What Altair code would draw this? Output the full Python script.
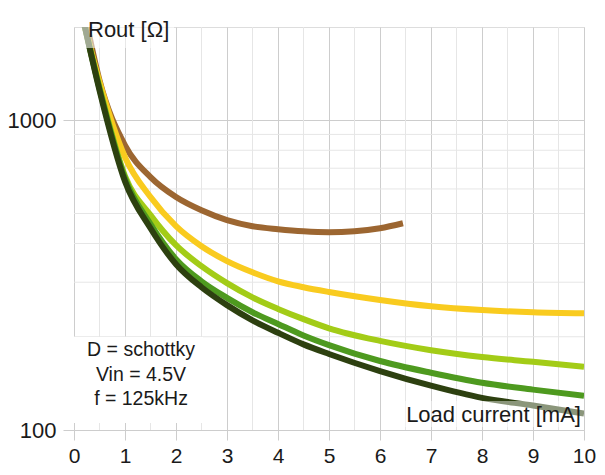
import altair as alt
import pandas as pd

# ---- data ----
series_names = ["brown", "yellow", "lightgreen", "green", "darkgreen"]
series_colors = ["#9c6631", "#f9cb1f", "#a3cc17", "#4e9a1f", "#2d4010"]

x_brown = [0.25, 0.5, 1, 1.5, 2, 2.5, 3, 3.5, 4, 4.5, 5, 5.5, 6, 6.45]
y_brown = [2050, 1346, 830, 655, 565, 512, 476, 455, 445, 438, 435, 438, 448, 465]

x_common = [0.2, 0.5, 1, 1.5, 2, 2.5, 3, 3.5, 4, 4.5, 5, 6, 7, 8, 9, 10]
y_yellow = [2050, 1330, 760, 565, 455, 392, 351, 323, 302, 289, 279, 263, 251, 244, 240, 238]
y_lightgreen = [2050, 1280, 660, 494, 395, 338, 298, 268, 246, 228, 213, 194, 181, 172, 166, 160]
y_green = [2050, 1265, 650, 462, 356, 302, 267, 240, 220, 202, 188, 167, 153, 142, 135, 129]
y_darkgreen = [2050, 1250, 635, 448, 343, 289, 253, 226, 206, 189, 176, 155, 139, 127, 120, 113]

x_ticks = [0, 1, 2, 3, 4, 5, 6, 7, 8, 9, 10]
x_minor = [0.5, 1.5, 2.5, 3.5, 4.5, 5.5, 6.5, 7.5, 8.5, 9.5]
y_ticks = [100, 1000]
y_minor = [200, 300, 400, 500, 600, 700, 800, 900]

y_title = "Rout [Ω]"
x_title = "Load current [mA]"
note_lines = ["D = schottky", "Vin = 4.5V", "f = 125kHz"]

# ---- build table ----
rows = []
for xv, yv in zip(x_brown, y_brown):
    rows.append({"s": "brown", "o": 0, "x": xv, "y": yv})
for name, ys, order in [("yellow", y_yellow, 1), ("lightgreen", y_lightgreen, 2),
                        ("green", y_green, 3), ("darkgreen", y_darkgreen, 4)]:
    for xv, yv in zip(x_common, ys):
        rows.append({"s": name, "o": order, "x": xv, "y": yv})
df = pd.DataFrame(rows)

FONT = "Liberation Sans"
W, H = 510, 403

xscale = alt.Scale(domain=[0, 10], nice=False, zero=False)
yscale = alt.Scale(type="log", domain=[100, 2000], nice=False)

base_axes = alt.Chart(pd.DataFrame({"x": [0], "y": [1000]})).mark_point(opacity=0).encode(
    x=alt.X("x:Q", scale=xscale,
            axis=alt.Axis(values=x_ticks, title=None, grid=True, gridColor="#cdcdcd",
                          tickColor="#cdcdcd", tickSize=10, domain=False,
                          labelFontSize=21, labelFont=FONT, labelColor="#1a1a1a",
                          labelPadding=5, labelFlush=False)),
    y=alt.Y("y:Q", scale=yscale,
            axis=alt.Axis(values=y_ticks, format="d", title=None, grid=True,
                          gridColor="#cdcdcd", tickColor="#cdcdcd", tickSize=11,
                          domain=False, labelFontSize=22, labelFont=FONT,
                          labelColor="#1a1a1a", labelPadding=7, labelFlush=False)),
)

minor_x = alt.Chart(pd.DataFrame({"x": x_minor})).mark_rule(
    color="#e6e6e6", strokeWidth=1).encode(x=alt.X("x:Q", scale=xscale))
minor_y = alt.Chart(pd.DataFrame({"y": y_minor})).mark_rule(
    color="#e6e6e6", strokeWidth=1).encode(y=alt.Y("y:Q", scale=yscale))

lines = alt.Chart(df).mark_line(strokeWidth=6, clip=True, interpolate="monotone",
                                strokeCap="butt").encode(
    x=alt.X("x:Q", scale=xscale),
    y=alt.Y("y:Q", scale=yscale),
    color=alt.Color("s:N", scale=alt.Scale(domain=series_names, range=series_colors),
                    legend=None),
    order=alt.Order("x:Q"),
    detail="o:N",
)

note_box = alt.Chart(pd.DataFrame({"a": [0]})).mark_rect(color="white").encode(
    x=alt.value(0), x2=alt.value(129), y=alt.value(310), y2=alt.value(396))
note = alt.Chart(pd.DataFrame({"t": ["\n".join(note_lines)]})).mark_text(
    font=FONT, fontSize=19.5, color="#1a1a1a", align="center", baseline="top",
    lineBreak="\n", lineHeight=24.5).encode(
    text="t:N", x=alt.value(67), y=alt.value(314))

ytitle_box = alt.Chart(pd.DataFrame({"a": [0]})).mark_rect(color="white", opacity=0.55).encode(
    x=alt.value(8), x2=alt.value(100), y=alt.value(-14), y2=alt.value(21))
ytitle = alt.Chart(pd.DataFrame({"t": [y_title]})).mark_text(
    font=FONT, fontSize=22, color="#1a1a1a", align="left", baseline="alphabetic").encode(
    text="t:N", x=alt.value(14), y=alt.value(10))

xtitle_box = alt.Chart(pd.DataFrame({"a": [0]})).mark_rect(color="white", opacity=0.45).encode(
    x=alt.value(324), x2=alt.value(510), y=alt.value(374), y2=alt.value(400))
xtitle = alt.Chart(pd.DataFrame({"t": [x_title]})).mark_text(
    font=FONT, fontSize=22, color="#1a1a1a", align="right", baseline="alphabetic").encode(
    text="t:N", x=alt.value(507), y=alt.value(395))

chart = alt.layer(
    base_axes, minor_x, minor_y, lines, note_box, note, ytitle_box, ytitle, xtitle_box, xtitle
).properties(
    width=W, height=H,
    autosize=alt.AutoSizeParams(type="none"),
    padding={"left": 66, "top": 19, "right": 13, "bottom": 37},
).configure_view(stroke="#c4c4c4", strokeWidth=1).configure(background="white")

chart.save("out.html", embed_options={"renderer": "svg", "actions": False})
